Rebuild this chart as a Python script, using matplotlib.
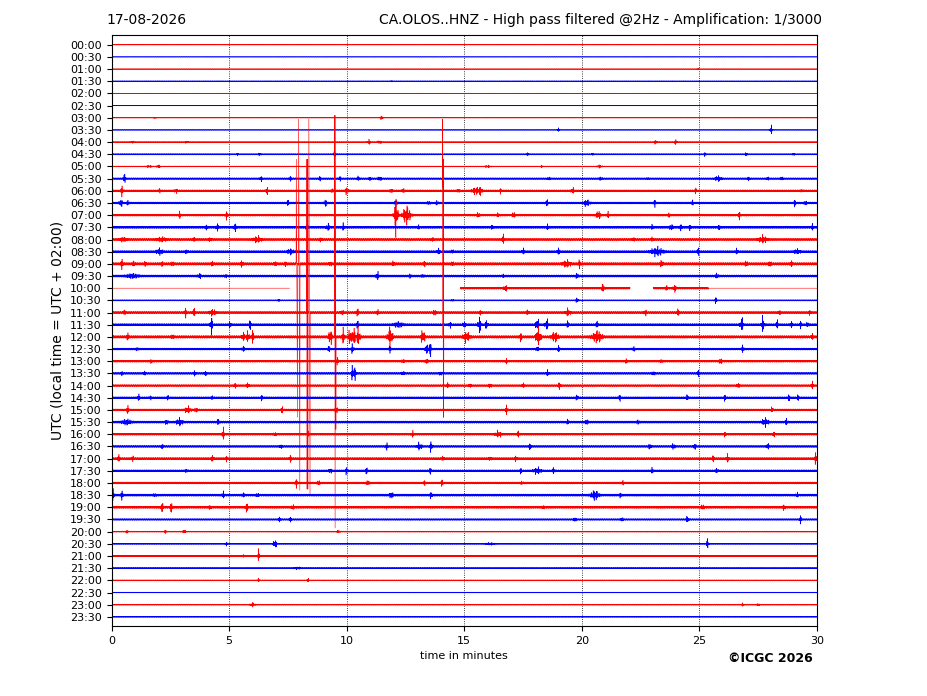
import numpy as np
import matplotlib
matplotlib.use("Agg")
import matplotlib.pyplot as plt

date_label = "17-08-2026"
title_label = "CA.OLOS..HNZ - High pass filtered @2Hz - Amplification: 1/3000"
x_label = "time in minutes"
y_label = "UTC (local time = UTC + 02:00)"
credit = "\u00a9ICGC 2026"

row_labels = ["00:00", "00:30", "01:00", "01:30", "02:00", "02:30", "03:00", "03:30",
              "04:00", "04:30", "05:00", "05:30", "06:00", "06:30", "07:00", "07:30",
              "08:00", "08:30", "09:00", "09:30", "10:00", "10:30", "11:00", "11:30",
              "12:00", "12:30", "13:00", "13:30", "14:00", "14:30", "15:00", "15:30",
              "16:00", "16:30", "17:00", "17:30", "18:00", "18:30", "19:00", "19:30",
              "20:00", "20:30", "21:00", "21:30", "22:00", "22:30", "23:00", "23:30"]
x_ticks = [0, 5, 10, 15, 20, 25, 30]
grid_minutes = [5, 10, 15, 20, 25]
trace_colors = ["#ff0000", "#0000ff"]

# background noise level of each row (in row spacings)
noise = [0.03, 0.025, 0.03, 0.045, 0.025, 0.025, 0.03, 0.03, 0.045, 0.06, 0.045, 0.08,
         0.09, 0.09, 0.09, 0.10, 0.10, 0.10, 0.12, 0.10, 0.09, 0.06, 0.10, 0.10,
         0.12, 0.09, 0.09, 0.09, 0.09, 0.09, 0.09, 0.10, 0.09, 0.09, 0.10, 0.09,
         0.09, 0.10, 0.10, 0.08, 0.05, 0.05, 0.05, 0.06, 0.05, 0.04, 0.05, 0.04]

# (row, minute, amplitude in row spacings, duration in s)
events = [
    (2, 24.95, 0.08, 6), (3, 11.9, 0.08, 6),
    (6, 1.85, 0.1, 8), (6, 11.5, 0.3, 8),
    (7, 19.0, 0.2, 6), (7, 28.05, 0.45, 8),
    (8, 0.9, 0.1, 10), (8, 3.2, 0.1, 10), (8, 10.95, 0.25, 10), (8, 11.4, 0.25, 10), (8, 23.15, 0.3, 8), (8, 24.0, 0.3, 8),
    (9, 5.35, 0.15, 6), (9, 6.3, 0.15, 8), (9, 9.5, 0.3, 8), (9, 17.7, 0.2, 6), (9, 20.45, 0.15, 6), (9, 25.25, 0.25, 6), (9, 27.0, 0.3, 6), (9, 29.0, 0.15, 6),
    (10, 1.6, 0.1, 20), (10, 2.0, 0.2, 10), (10, 16.0, 0.1, 20), (10, 18.3, 0.1, 8), (10, 20.75, 0.15, 15),
    (11, 0.55, 0.45, 8), (11, 6.35, 0.25, 8), (11, 7.6, 0.2, 8), (11, 8.85, 0.2, 8), (11, 9.7, 0.2, 8), (11, 10.5, 0.2, 8), (11, 11.0, 0.2, 8), (11, 11.4, 0.25, 10), (11, 18.6, 0.15, 8), (11, 20.8, 0.2, 8), (11, 22.8, 0.1, 6), (11, 25.8, 0.25, 20), (11, 27.1, 0.15, 8), (11, 27.9, 0.15, 8), (11, 28.5, 0.2, 8),
    (12, 0.45, 0.5, 8), (12, 2.05, 0.15, 8), (12, 2.75, 0.2, 10), (12, 6.6, 0.4, 8), (12, 9.4, 0.2, 8), (12, 10.0, 0.3, 12), (12, 11.9, 0.25, 8), (12, 12.4, 0.25, 8), (12, 14.75, 0.2, 8), (12, 15.5, 0.35, 25), (12, 15.7, 0.4, 10), (12, 16.55, 0.2, 8), (12, 19.6, 0.3, 10), (12, 24.85, 0.2, 8), (12, 29.35, 0.1, 8),
    (13, 0.4, 0.4, 10), (13, 0.7, 0.2, 8), (13, 7.5, 0.25, 8), (13, 9.1, 0.3, 10), (13, 12.1, 0.3, 10), (13, 13.5, 0.2, 8), (13, 13.85, 0.2, 8), (13, 18.5, 0.35, 8), (13, 20.2, 0.3, 20), (13, 23.1, 0.3, 8), (13, 24.7, 0.2, 8), (13, 29.05, 0.3, 8), (13, 29.5, 0.25, 8),
    (14, 2.9, 0.3, 8), (14, 4.9, 0.35, 8), (14, 12.1, 2.1, 12), (14, 12.55, 1.0, 25), (14, 15.6, 0.3, 8), (14, 16.45, 0.2, 8), (14, 17.1, 0.4, 8), (14, 20.7, 0.4, 15), (14, 21.1, 0.3, 8), (14, 23.7, 0.2, 8), (14, 26.7, 0.35, 8),
    (15, 4.05, 0.2, 8), (15, 4.5, 0.3, 10), (15, 5.25, 0.35, 10), (15, 8.3, 0.3, 8), (15, 9.2, 0.35, 10), (15, 9.85, 0.3, 8), (15, 13.05, 0.15, 8), (15, 16.2, 0.2, 8), (15, 18.55, 0.25, 8), (15, 23.0, 0.2, 8), (15, 23.8, 0.3, 10), (15, 24.2, 0.25, 8), (15, 24.6, 0.2, 8), (15, 25.85, 0.2, 8), (15, 29.8, 0.25, 8),
    (16, 0.5, 0.2, 20), (16, 2.15, 0.2, 30), (16, 3.5, 0.2, 8), (16, 4.2, 0.2, 8), (16, 6.2, 0.3, 25), (16, 8.9, 0.2, 8), (16, 13.65, 0.2, 8), (16, 16.65, 0.45, 8), (16, 22.2, 0.15, 8), (16, 23.0, 0.15, 8), (16, 27.7, 0.35, 25),
    (17, 2.05, 0.3, 20), (17, 3.2, 0.2, 8), (17, 7.6, 0.25, 20), (17, 13.9, 0.35, 8), (17, 14.5, 0.2, 8), (17, 17.5, 0.3, 8), (17, 19.0, 0.3, 8), (17, 23.2, 0.4, 40), (17, 24.95, 0.35, 8), (17, 26.6, 0.25, 8), (17, 29.15, 0.2, 20),
    (18, 0.45, 0.45, 8), (18, 0.95, 0.2, 8), (18, 1.45, 0.2, 8), (18, 2.15, 0.2, 8), (18, 2.6, 0.2, 8), (18, 4.3, 0.2, 8), (18, 5.55, 0.3, 8), (18, 6.95, 0.2, 8), (18, 7.4, 0.2, 8), (18, 9.3, 0.2, 8), (18, 12.0, 0.25, 8), (18, 13.3, 0.2, 8), (18, 14.5, 0.2, 8), (18, 19.35, 0.3, 25), (18, 19.9, 0.35, 8), (18, 23.4, 0.4, 8), (18, 27.0, 0.3, 8), (18, 28.0, 0.35, 8), (18, 28.9, 0.25, 8),
    (19, 0.9, 0.2, 40), (19, 3.75, 0.25, 10), (19, 4.85, 0.15, 8), (19, 11.3, 0.5, 8), (19, 12.7, 0.15, 8), (19, 13.25, 0.15, 8), (19, 16.65, 0.1, 8), (19, 19.8, 0.3, 8), (19, 25.75, 0.3, 8),
    (20, 16.75, 0.35, 10), (20, 20.9, 0.4, 10), (20, 23.6, 0.2, 8), (20, 23.95, 0.35, 10),
    (21, 7.1, 0.1, 8), (21, 14.5, 0.1, 8), (21, 19.8, 0.3, 8), (21, 25.7, 0.3, 8),
    (22, 0.55, 0.2, 8), (22, 3.15, 0.4, 8), (22, 3.5, 0.5, 8), (22, 4.3, 0.3, 20), (22, 9.8, 0.3, 8), (22, 10.45, 0.4, 8), (22, 11.3, 0.3, 8), (22, 13.75, 0.4, 8), (22, 15.7, 0.2, 8), (22, 17.7, 0.3, 8), (22, 19.4, 0.35, 15), (22, 22.7, 0.3, 8), (22, 24.1, 0.3, 8), (22, 28.4, 0.2, 8), (22, 29.7, 0.2, 8),
    (23, 4.25, 1.0, 8), (23, 5.05, 0.3, 8), (23, 5.9, 0.5, 8), (23, 10.45, 0.4, 8), (23, 12.2, 0.25, 30), (23, 14.4, 0.3, 8), (23, 15.0, 0.4, 8), (23, 15.65, 0.9, 10), (23, 15.95, 0.5, 8), (23, 18.1, 0.8, 10), (23, 18.5, 0.6, 10), (23, 19.4, 0.3, 8), (23, 20.65, 0.3, 8), (23, 26.8, 0.8, 10), (23, 27.7, 0.8, 10), (23, 28.3, 0.4, 8), (23, 28.9, 0.3, 8), (23, 29.3, 0.3, 8), (23, 29.6, 0.3, 8),
    (24, 0.0, 0.2, 8), (24, 0.7, 0.3, 8), (24, 2.6, 0.2, 8), (24, 5.6, 0.5, 8), (24, 5.8, 0.7, 8), (24, 6.0, 0.6, 8), (24, 9.3, 1.0, 10), (24, 9.85, 0.7, 10), (24, 10.15, 1.0, 10), (24, 10.3, 1.4, 8), (24, 10.5, 1.0, 10), (24, 11.85, 1.1, 15), (24, 13.25, 0.8, 12), (24, 15.1, 0.5, 20), (24, 17.4, 0.4, 8), (24, 18.1, 0.9, 10), (24, 18.2, 0.7, 10), (24, 18.85, 0.5, 20), (24, 20.65, 0.6, 30), (24, 29.8, 0.2, 8),
    (25, 1.1, 0.15, 8), (25, 5.6, 0.3, 8), (25, 9.25, 0.3, 8), (25, 10.25, 0.5, 8), (25, 11.85, 0.3, 8), (25, 13.4, 0.8, 8), (25, 13.55, 0.8, 8), (25, 18.1, 0.3, 8), (25, 19.0, 0.3, 8), (25, 22.2, 0.25, 8), (25, 26.85, 0.35, 8),
    (26, 1.7, 0.15, 8), (26, 9.6, 0.3, 8), (26, 12.4, 0.2, 8), (26, 13.4, 0.3, 8), (26, 16.8, 0.2, 8), (26, 21.9, 0.2, 8), (26, 23.4, 0.15, 8), (26, 25.9, 0.4, 8),
    (27, 0.45, 0.15, 8), (27, 1.4, 0.15, 8), (27, 3.55, 0.2, 8), (27, 4.0, 0.2, 8), (27, 10.25, 0.8, 8), (27, 10.35, 0.6, 8), (27, 12.4, 0.2, 8), (27, 14.0, 0.2, 8), (27, 18.55, 0.3, 8), (27, 23.05, 0.25, 8), (27, 24.95, 0.3, 8),
    (28, 5.25, 0.2, 8), (28, 5.8, 0.25, 8), (28, 14.3, 0.2, 8), (28, 15.25, 0.2, 8), (28, 16.1, 0.3, 8), (28, 17.5, 0.2, 8), (28, 19.05, 0.4, 8), (28, 26.65, 0.3, 8), (28, 29.8, 0.3, 8),
    (29, 1.15, 0.3, 8), (29, 1.65, 0.15, 8), (29, 2.4, 0.2, 8), (29, 4.3, 0.15, 8), (29, 6.4, 0.25, 8), (29, 19.8, 0.3, 8), (29, 21.6, 0.3, 8), (29, 24.5, 0.3, 8), (29, 26.1, 0.3, 8), (29, 28.8, 0.3, 8), (29, 29.2, 0.3, 8),
    (30, 0.7, 0.4, 8), (30, 3.25, 0.3, 20), (30, 3.6, 0.3, 8), (30, 7.25, 0.3, 8), (30, 9.55, 0.4, 8), (30, 16.8, 0.4, 8), (30, 28.1, 0.3, 8),
    (31, 0.65, 0.25, 30), (31, 2.35, 0.3, 8), (31, 2.9, 0.35, 20), (31, 4.55, 0.3, 8), (31, 19.4, 0.2, 8), (31, 20.2, 0.35, 8), (31, 22.4, 0.2, 8), (31, 27.8, 0.4, 20), (31, 28.7, 0.3, 8),
    (32, 4.75, 0.6, 8), (32, 6.95, 0.2, 8), (32, 8.35, 0.2, 8), (32, 12.8, 0.3, 8), (32, 16.45, 0.3, 20), (32, 17.3, 0.3, 8), (32, 26.1, 0.2, 8), (32, 28.15, 0.3, 8),
    (33, 2.15, 0.2, 8), (33, 7.2, 0.2, 8), (33, 11.7, 0.3, 8), (33, 13.1, 0.35, 15), (33, 13.6, 0.6, 8), (33, 17.8, 0.3, 8), (33, 22.9, 0.35, 8), (33, 23.9, 0.4, 8), (33, 24.8, 0.4, 8), (33, 27.9, 0.35, 8),
    (34, 0.3, 0.3, 8), (34, 0.9, 0.25, 8), (34, 4.3, 0.3, 8), (34, 4.9, 0.2, 8), (34, 7.6, 0.3, 8), (34, 14.1, 0.2, 8), (34, 16.1, 0.2, 8), (34, 17.2, 0.3, 8), (34, 25.6, 0.3, 8), (34, 26.2, 0.35, 8), (34, 29.95, 0.6, 8),
    (35, 3.2, 0.15, 8), (35, 9.3, 0.3, 8), (35, 10.0, 0.35, 8), (35, 10.85, 0.3, 8), (35, 13.55, 0.3, 8), (35, 17.4, 0.25, 8), (35, 18.1, 0.3, 25), (35, 18.8, 0.3, 8), (35, 23.0, 0.25, 8), (35, 25.75, 0.25, 8),
    (36, 7.85, 0.4, 8), (36, 8.8, 0.3, 8), (36, 10.9, 0.3, 8), (36, 13.3, 0.2, 8), (36, 14.05, 0.3, 8), (36, 17.45, 0.15, 8), (36, 21.75, 0.15, 8),
    (37, 0.07, 0.5, 8), (37, 0.45, 0.4, 8), (37, 1.85, 0.15, 8), (37, 4.75, 0.3, 8), (37, 5.6, 0.2, 8), (37, 6.2, 0.2, 8), (37, 11.9, 0.4, 10), (37, 13.6, 0.3, 8), (37, 20.55, 0.5, 25), (37, 21.65, 0.2, 8), (37, 29.15, 0.2, 8),
    (38, 2.15, 0.5, 8), (38, 2.55, 0.5, 8), (38, 4.2, 0.2, 8), (38, 5.75, 0.45, 8), (38, 7.7, 0.25, 8), (38, 18.35, 0.15, 8), (38, 25.15, 0.35, 8), (38, 28.6, 0.3, 8),
    (39, 7.15, 0.2, 8), (39, 7.6, 0.2, 8), (39, 19.7, 0.3, 8), (39, 21.7, 0.2, 8), (39, 24.5, 0.35, 8), (39, 29.3, 0.35, 8),
    (40, 0.65, 0.15, 8), (40, 2.3, 0.15, 8), (40, 3.1, 0.3, 8), (40, 9.65, 0.2, 8),
    (41, 4.9, 0.15, 8), (41, 6.95, 0.6, 10), (41, 16.1, 0.1, 30), (41, 25.35, 0.5, 8),
    (42, 5.6, 0.15, 8), (42, 6.25, 0.6, 8),
    (43, 7.9, 0.1, 20),
    (44, 6.25, 0.15, 8), (44, 8.35, 0.15, 8),
    (46, 6.0, 0.2, 15), (46, 26.85, 0.15, 8), (46, 27.5, 0.15, 8),
]

# large transients: (row, minute, successive peak values in row spacings, samples between peaks)
spikes = [
    (18, 7.96, [11.9, -18.6], 6),
    (18, 7.86, [8.6, -12.6], 6),
    (22, 8.39, [15.9, -15.0], 6),
    (22, 8.31, [12.6, -14.5, 12.6, -14.5, 12.6, -14.5], 1),
    (24, 9.49, [18.2, -15.7, 18.2, -7.6], 2),
    (24, 14.08, [17.9, -10.1], 5),
    (24, 14.10, [14.6, -6.6, 14.6, -6.6], 1),
]

# data gaps and flat (no signal) stretches, in minutes
gaps = [(20, 7.57, 14.83), (20, 22.05, 23.03)]
flats = [(20, 0.0, 7.57), (20, 25.4, 30.0)]

# ---------------------------------------------------------------------------
W, H = 927, 696
fig = plt.figure(figsize=(W / 100, H / 100), dpi=100)
ax = fig.add_axes([111.5 / W, 70 / H, (817 - 111.5) / W, (626 - 35) / H])

sps = 2.0
t = np.arange(int(30 * 60 * sps) + 1) / sps / 60.0
k = np.arange(t.size)
sign = np.cos(np.pi * k)
noise_carrier = sign * (0.2 + 0.8 * np.abs(np.sin(0.618 * k)) ** 3)
event_carrier = sign * (0.15 + 0.85 * np.abs(np.sin(0.618 * k) * np.sin(0.2113 * k)) ** 3)

for i, lab in enumerate(row_labels):
    y = noise[i] * noise_carrier
    for (r, t0, a, d) in events:
        if r == i:
            sig = d / 4.0 / 60.0
            y = y + a * np.exp(-0.5 * ((t - t0) / sig) ** 2) * event_carrier
    for (r, t0, vals, step) in spikes:
        if r == i:
            j0 = int(round(t0 * 60 * sps))
            idx = j0 + step * np.arange(len(vals))
            seg = np.arange(idx[0], idx[-1] + 1)
            y[seg] = np.interp(seg, idx, vals)
    for (r, a, b) in flats:
        if r == i:
            y[(t >= a) & (t <= b)] = 0.0
    for (r, a, b) in gaps:
        if r == i:
            y[(t > a) & (t < b)] = np.nan
    ax.plot(t, i - y, color=trace_colors[i % 2], lw=0.4, zorder=2)

for g in grid_minutes:
    ax.axvline(g, color="black", ls=":", lw=0.6, zorder=1)

ax.set_xlim(0, 30)
ax.set_ylim(47.75, -0.8)
ax.set_yticks(range(len(row_labels)))
ax.set_yticklabels(row_labels, fontsize=8)
ax.set_xticks(x_ticks)
ax.set_xticklabels([str(v) for v in x_ticks], fontsize=8)
ax.set_xlabel(x_label, fontsize=8)
ax.set_ylabel(y_label, fontsize=10)

fig.text(106 / W, 1 - 20 / H, date_label, ha="left", va="center", fontsize=10)
fig.text(822 / W, 1 - 20 / H, title_label, ha="right", va="center", fontsize=10)
fig.text(770 / W, 1 - 659 / H, credit, ha="center", va="center", fontsize=9, fontweight="bold")

fig.savefig("out.png", dpi=100)
